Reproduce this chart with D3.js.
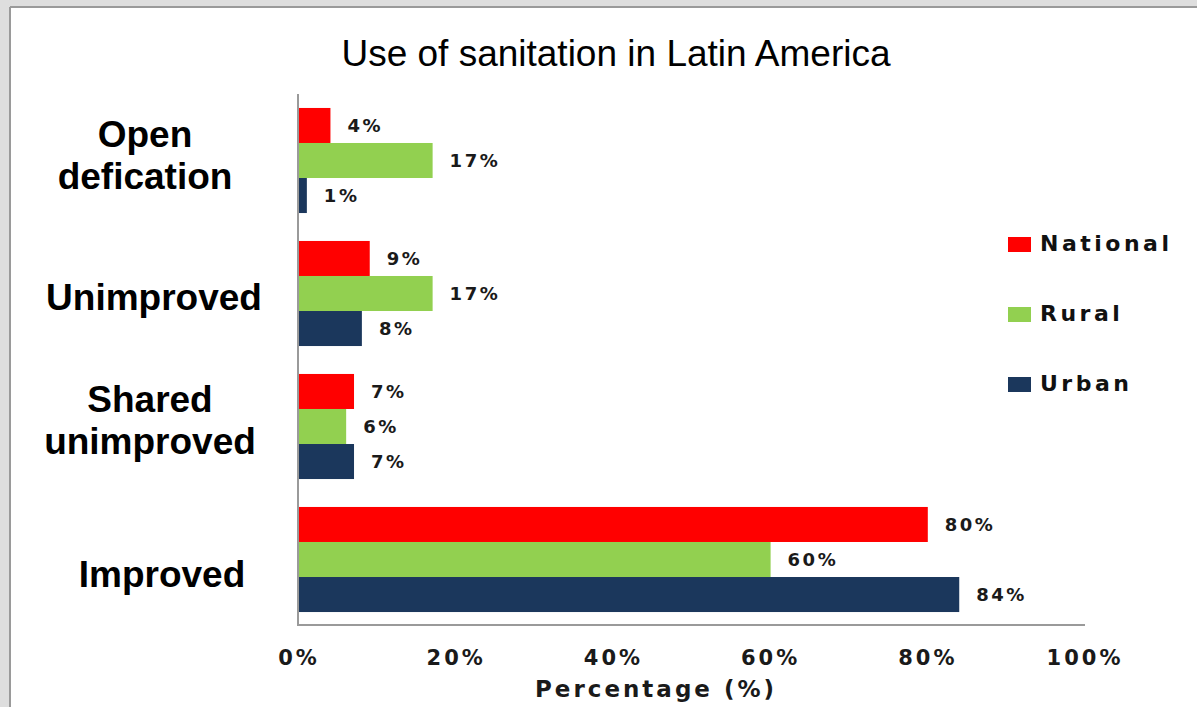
<!DOCTYPE html>
<html>
<head>
<meta charset="utf-8">
<script src="https://cdn.jsdelivr.net/npm/d3@7"></script>
<style>
  body { margin: 0; background: #dedede; }
  svg { display: block; }
</style>
</head>
<body>
<script>
// data
var categories = ['Open defication', 'Unimproved', 'Shared unimproved', 'Improved'];
var catLines = [['Open', 'defication'], ['Unimproved'], ['Shared', 'unimproved'], ['Improved']];
var seriesNames = ['National', 'Rural', 'Urban'];
var seriesColors = ['#ff0000', '#92d050', '#1b375c'];
var national = [4, 9, 7, 80];
var rural = [17, 17, 6, 60];
var urban = [1, 8, 7, 84];
var ticks = [0, 20, 40, 60, 80, 100];

// hand placed label boxes in the original (x centre, y shift from band middle)
var labelX = [145, 154, 150, 162];
var labelShift = [-6, 3, -7, 14];

var values = [national, rural, urban];

var width = 1197, height = 707;

var svg = d3.select('body').append('svg')
  .attr('width', width)
  .attr('height', height);

// white panel with a grey frame on top / left
svg.append('rect')
  .attr('x', 10).attr('y', 7)
  .attr('width', width - 10).attr('height', height - 7)
  .attr('fill', '#fff');
svg.append('line')
  .attr('x1', 10).attr('x2', width).attr('y1', 7).attr('y2', 7)
  .attr('stroke', '#9a9a9a').attr('stroke-width', 2);
svg.append('line')
  .attr('x1', 10).attr('x2', 10).attr('y1', 7).attr('y2', height)
  .attr('stroke', '#9a9a9a').attr('stroke-width', 2);

var x = d3.scaleLinear().domain([0, 100]).range([299, 1085]);

var y = d3.scaleBand()
  .domain(categories)
  .range([94, 626])
  .paddingInner(0.21)
  .paddingOuter(0.105);

var ySub = d3.scaleBand()
  .domain(seriesNames)
  .range([0, y.bandwidth()]);

// title
svg.append('text')
  .attr('x', 616).attr('y', 66)
  .attr('text-anchor', 'middle')
  .attr('font-family', 'Liberation Sans, Arial, sans-serif')
  .attr('font-size', 37)
  .attr('fill', '#000')
  .text('Use of sanitation in Latin America');

// bars
var groups = svg.selectAll('g.cat')
  .data(categories)
  .enter().append('g')
  .attr('class', 'cat')
  .attr('transform', function(d) { return 'translate(0,' + y(d) + ')'; });

groups.each(function(c, ci) {
  var g = d3.select(this);
  seriesNames.forEach(function(s, si) {
    var v = values[si][ci];
    g.append('rect')
      .attr('x', x(0))
      .attr('y', ySub(s))
      .attr('width', x(v) - x(0))
      .attr('height', ySub.bandwidth())
      .attr('fill', seriesColors[si]);
    g.append('text')
      .attr('x', x(v) + 17)
      .attr('y', ySub(s) + ySub.bandwidth() / 2)
      .attr('dy', '0.36em')
      .attr('font-family', 'DejaVu Sans, Verdana, sans-serif')
      .attr('font-weight', 'bold')
      .attr('font-size', 18)
      .attr('letter-spacing', 2.5)
      .attr('fill', '#1a1a1a')
      .text(v + '%');
  });
});

// category labels
groups.each(function(c, ci) {
  var lines = catLines[ci];
  var mid = y.bandwidth() / 2 + labelShift[ci];
  var lh = 42;
  var t = d3.select(this).append('text')
    .attr('text-anchor', 'middle')
    .attr('font-family', 'Liberation Sans, Arial, sans-serif')
    .attr('font-weight', 'bold')
    .attr('font-size', 37)
    .attr('fill', '#000');
  lines.forEach(function(l, li) {
    t.append('tspan')
      .attr('x', labelX[ci])
      .attr('y', mid + (li - (lines.length - 1) / 2) * lh)
      .attr('dy', '0.36em')
      .text(l);
  });
});

// axis frame (left + bottom)
svg.append('path')
  .attr('d', 'M' + (x(0) - 1) + ',' + 94 + 'V' + 625 + 'H' + x(100))
  .attr('fill', 'none')
  .attr('stroke', '#9a9a9a')
  .attr('stroke-width', 2);

// x tick labels
svg.selectAll('text.tick')
  .data(ticks)
  .enter().append('text')
  .attr('class', 'tick')
  .attr('x', function(d) { return x(d); })
  .attr('y', 665)
  .attr('text-anchor', 'middle')
  .attr('font-family', 'DejaVu Sans, Verdana, sans-serif')
  .attr('font-weight', 'bold')
  .attr('font-size', 21)
  .attr('letter-spacing', 3)
  .attr('fill', '#1a1a1a')
  .text(function(d) { return d + '%'; });

svg.append('text')
  .attr('x', 656).attr('y', 697)
  .attr('text-anchor', 'middle')
  .attr('font-family', 'DejaVu Sans, Verdana, sans-serif')
  .attr('font-weight', 'bold')
  .attr('font-size', 23)
  .attr('letter-spacing', 3)
  .attr('fill', '#1a1a1a')
  .text('Percentage (%)');

// legend
var legend = svg.selectAll('g.leg')
  .data(seriesNames)
  .enter().append('g')
  .attr('class', 'leg')
  .attr('transform', function(d, i) { return 'translate(1008,' + (237 + i * 70) + ')'; });

legend.append('rect')
  .attr('width', 23).attr('height', 15)
  .attr('fill', function(d, i) { return seriesColors[i]; });

legend.append('text')
  .attr('x', 32).attr('y', 14)
  .attr('font-family', 'DejaVu Sans, Verdana, sans-serif')
  .attr('font-weight', 'bold')
  .attr('font-size', 22)
  .attr('letter-spacing', 3.5)
  .attr('fill', '#111')
  .text(function(d) { return d; });
</script>
</body>
</html>
